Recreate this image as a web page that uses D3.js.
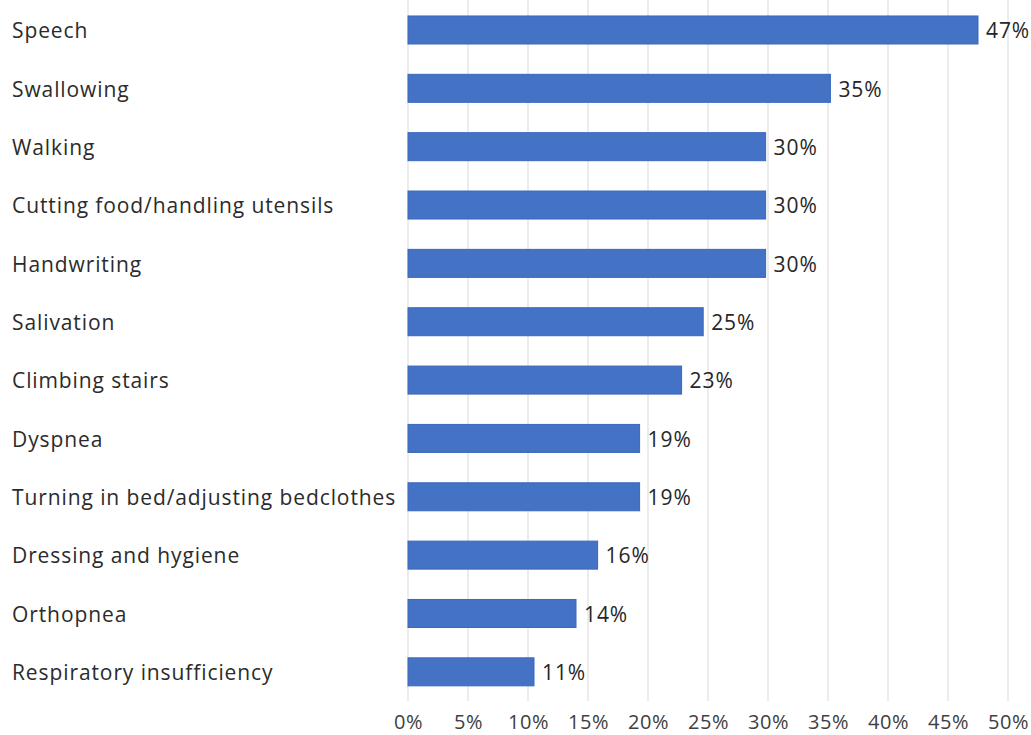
<!DOCTYPE html>
<html>
<head>
<meta charset="utf-8">
<script src="https://d3js.org/d3.v7.min.js"></script>
<style>
  body { margin: 0; background: #fff; }
  svg text { font-family: "Open Sans", "Noto Sans", sans-serif; font-weight: 500; letter-spacing: 0.9px; }
</style>
</head>
<body>
<div id="chart"></div>
<script>
// symptom categories, top to bottom
const categories = [
  "Speech", "Swallowing", "Walking", "Cutting food/handling utensils",
  "Handwriting", "Salivation", "Climbing stairs", "Dyspnea",
  "Turning in bed/adjusting bedclothes", "Dressing and hygiene",
  "Orthopnea", "Respiratory insufficiency"
];
// percent of patients
const values = [47.5, 35.2, 29.8, 29.8, 29.8, 24.6, 22.8, 19.3, 19.3, 15.8, 14.0, 10.5];
// labels shown next to each bar
const valueLabels = ["47%", "35%", "30%", "30%", "30%", "25%", "23%", "19%", "19%", "16%", "14%", "11%"];
const xTicks = [0, 5, 10, 15, 20, 25, 30, 35, 40, 45, 50];

const width = 1031, height = 735;
const plotLeft = 408, plotRight = 1008, plotTop = 0.8, plotBottom = 701;

const svg = d3.select("#chart").append("svg")
  .attr("width", width).attr("height", height);

const x = d3.scaleLinear().domain([0, 50]).range([plotLeft, plotRight]);
const y = d3.scaleBand().domain(categories).range([plotTop, plotBottom])
  .paddingInner(0.52).paddingOuter(0.26);

// vertical gridlines
svg.append("g").selectAll("line").data(xTicks).enter().append("line")
  .attr("x1", d => x(d)).attr("x2", d => x(d))
  .attr("y1", 0).attr("y2", plotBottom)
  .attr("stroke", "#d9d9d9").attr("stroke-width", 1);

// x axis labels
const xAxis = svg.append("g").attr("transform", `translate(0,${plotBottom})`)
  .call(d3.axisBottom(x).tickValues(xTicks).tickFormat(d => d + "%").tickSize(0).tickPadding(14));
xAxis.select(".domain").remove();
xAxis.selectAll("text").attr("font-size", 20).attr("fill", "#404040")
  .style("font-family", "'Open Sans', sans-serif").style("letter-spacing", "0.6px");

// bars
svg.append("g").selectAll("rect").data(values).enter().append("rect")
  .attr("x", x(0))
  .attr("y", (d, i) => y(categories[i]))
  .attr("width", d => x(d) - x(0))
  .attr("height", y.bandwidth())
  .attr("fill", "#4472c4")
  .attr("stroke", "#3b68bd").attr("stroke-width", 1);

// value labels
svg.append("g").selectAll("text").data(values).enter().append("text")
  .attr("x", d => x(d) + 8)
  .attr("y", (d, i) => y(categories[i]) + y.bandwidth() / 2 + 1)
  .attr("dy", "0.35em")
  .attr("font-size", 21).attr("fill", "#262626")
  .text((d, i) => valueLabels[i]);

// category labels
svg.append("g").selectAll("text").data(categories).enter().append("text")
  .attr("x", 12)
  .attr("y", d => y(d) + y.bandwidth() / 2 + 1)
  .attr("dy", "0.35em")
  .attr("font-size", 21).attr("fill", "#2b2b2b")
  .text(d => d);
</script>
</body>
</html>
